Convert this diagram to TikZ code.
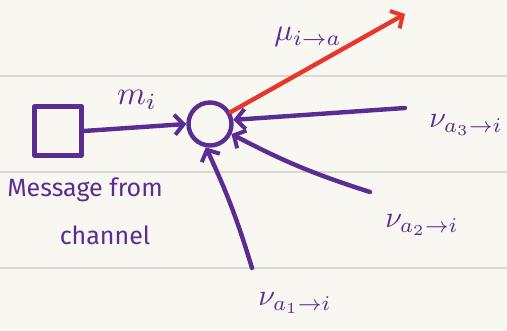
\documentclass[tikz,border=0pt]{standalone}
\usepackage{fontspec}
\setmainfont{Fira Sans}
\usetikzlibrary{arrows.meta}
\definecolor{paper}{HTML}{F9F7F2}
\definecolor{rule}{HTML}{DAD6CF}
\definecolor{ink}{HTML}{5B2C91}
\definecolor{redink}{HTML}{E8372A}
\tikzset{
  pen/.style={draw=ink, line width=4.4pt, line cap=round, line join=round},
  msg/.style={pen, -{Straight Barb[length=9pt,width=20pt,line width=4pt]}},
  outmsg/.style={draw=redink, line width=4.4pt, line cap=round, -{Straight Barb[length=9pt,width=20pt,line width=4pt]}},
  lbl/.style={text=ink, inner sep=0pt},
  rlbl/.style={text=ink, font=\fontsize{25}{28}\selectfont, inner sep=0pt},
  paperline/.style={draw=rule, line width=1.4pt}
}
\begin{document}
\begin{tikzpicture}[x=1pt,y=-1pt]
\fill[paper] (0,0) rectangle (507,331);
\useasboundingbox (0,0) rectangle (507,331);
\foreach \yy in {76,172,268} \draw[paperline] (0,\yy) -- (507,\yy);
% nodes
\node[pen, minimum width=47pt, minimum height=49pt, inner sep=0pt] (chan) at (58,131) {};
\node[pen, circle, minimum size=43pt, inner sep=0pt] (var) at (210,124) {};
\coordinate (fa) at (405,14);
\coordinate (a3) at (405,108);
\coordinate (a2) at (370,192);
\coordinate (a1) at (252,268);
% connectors
\draw[msg] (chan.east) -- (var.west);
\draw[outmsg] (var.30) -- (fa);
\draw[msg] (a3) -- (var.10);
\draw[msg] (a2) to[bend left=5] (var.-25);
\draw[msg] (a1) to[bend right=4] (var.-100);
% labels
\node[lbl] (lm) at (137,100) {\scalebox{3.3}{$m_i$}};
\node[lbl] (lmu) at (308,37) {\scalebox{3.1}{$\mu_{i\to a}$}};
\node[lbl] (l3) at (466,125) {\scalebox{3}{$\nu_{a_3\to i}$}};
\node[lbl] (l2) at (422,225) {\scalebox{3}{$\nu_{a_2\to i}$}};
\node[lbl] (l1) at (295,303) {\scalebox{3}{$\nu_{a_1\to i}$}};
\node[rlbl] (t1) at (85,190) {Message from};
\node[rlbl] (t2) at (105,235) {channel};
\end{tikzpicture}
\end{document}
